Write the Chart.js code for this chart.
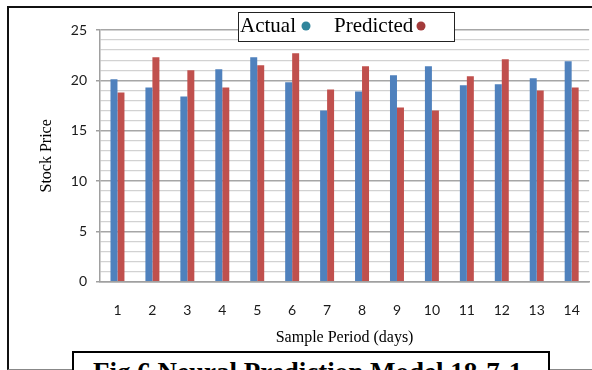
<!DOCTYPE html>
<html>
<head>
<meta charset="utf-8">
<script src="https://cdn.jsdelivr.net/npm/chart.js@4"></script>
<style>
  html, body { margin: 0; padding: 0; background: #fff; overflow: hidden; }
  body { width: 592px; height: 370px; position: relative; }
  #frame {
    position: absolute; left: 7px; top: 6px; width: 620px; height: 361px;
    border-left: 2px solid #111; border-top: 2px solid #111; border-bottom: 1px solid #888;
  }
  #wrap { position: absolute; left: 0; top: 0; width: 600px; height: 370px; }
  #caption {
    position: absolute; left: 72px; top: 351px; width: 478px; height: 40px;
    border: 2px solid #000; background: #fff;
    font: bold 27px "Liberation Serif", serif; line-height: 30px; color: #000;
    padding-left: 19px; padding-top: 4px; box-sizing: border-box; white-space: nowrap;
  }
</style>
</head>
<body>
<div id="frame"></div>
<div id="wrap"><canvas id="stockChart" width="600" height="370"></canvas></div>
<div id="caption">Fig.6 Neural Prediction Model 18-7-1</div>
<script>
// data
const days = ['1', '2', '3', '4', '5', '6', '7', '8', '9', '10', '11', '12', '13', '14'];
const actual = [20.1, 19.3, 18.4, 21.1, 22.3, 19.8, 17.0, 18.9, 20.5, 21.4, 19.5, 19.6, 20.2, 21.9];
const predicted = [18.8, 22.3, 21.0, 19.3, 21.5, 22.7, 19.1, 21.4, 17.3, 17.0, 20.4, 22.1, 19.0, 19.3];
const seriesNames = ['Actual', 'Predicted'];
const barColors = ['#4f81bd', '#c0504d'];
const legendDots = ['#31859c', '#a33a3a'];

// legend box drawn on top of the plot, like the pasted one in the figure
const boxLegend = {
    id: 'boxLegend',
    afterDraw(chart) {
        const ctx = chart.ctx;
        ctx.save();
        ctx.fillStyle = '#fff';
        ctx.fillRect(238, 12, 216, 29);
        ctx.strokeStyle = '#222';
        ctx.lineWidth = 1;
        ctx.strokeRect(238.5, 12.5, 216, 29);
        ctx.font = '21px "Liberation Serif", serif';
        ctx.textBaseline = 'alphabetic';
        const textX = [240, 334];
        const dotX = [306, 421];
        chart.data.datasets.forEach(function (ds, i) {
            ctx.fillStyle = '#000';
            ctx.fillText(ds.label, textX[i], 32);
            ctx.fillStyle = legendDots[i];
            ctx.beginPath();
            ctx.arc(dotX[i], 26, 4.5, 0, Math.PI * 2);
            ctx.fill();
        });
        ctx.restore();
    }
};

const ctx = document.getElementById('stockChart').getContext('2d');
new Chart(ctx, {
    type: 'bar',
    data: {
        labels: days,
        datasets: [
            { label: seriesNames[0], data: actual, backgroundColor: barColors[0] },
            { label: seriesNames[1], data: predicted, backgroundColor: barColors[1] }
        ]
    },
    options: {
        responsive: false,
        animation: false,
        layout: { padding: { top: 30, right: 6, left: 0, bottom: 0 } },
        datasets: {
            bar: { categoryPercentage: 0.4, barPercentage: 1.0 }
        },
        plugins: {
            legend: { display: false },
            tooltip: { enabled: false }
        },
        scales: {
            x: {
                afterFit: function (scale) { scale.height = 88.3; },
                grid: { display: true, drawOnChartArea: false, drawTicks: false },
                border: { display: true, color: '#a0a0a0', width: 1.5 },
                ticks: {
                    color: '#1a1a1a',
                    padding: 20,
                    font: { family: 'Lato', size: 14 }
                },
                title: {
                    display: true,
                    text: 'Sample Period (days)',
                    color: '#000',
                    font: { family: 'Liberation Serif', size: 16 },
                    padding: { top: 0, bottom: 23 }
                }
            },
            y: {
                min: 0,
                max: 25,
                afterFit: function (scale) { scale.width = 100; },
                border: { display: true, color: '#a0a0a0', width: 1.5 },
                grid: {
                    color: function (c) { return c.tick.value % 5 === 0 ? '#a6a6a6' : '#d2d2d2'; },
                    lineWidth: function (c) { return c.tick.value % 5 === 0 ? 1.5 : 1.3; },
                    tickColor: function (c) { return c.tick.value % 5 === 0 ? '#a0a0a0' : 'rgba(0,0,0,0)'; },
                    tickLength: 4
                },
                ticks: {
                    stepSize: 1,
                    autoSkip: false,
                    padding: 9,
                    color: '#1a1a1a',
                    font: { family: 'Lato', size: 14 },
                    callback: function (v) { return v % 5 === 0 ? v : ''; }
                },
                title: {
                    display: true,
                    text: 'Stock Price',
                    color: '#000',
                    font: { family: 'Liberation Serif', size: 16 },
                    padding: { top: 37, bottom: 0 }
                }
            }
        }
    },
    plugins: [boxLegend]
});
</script>
</body>
</html>
